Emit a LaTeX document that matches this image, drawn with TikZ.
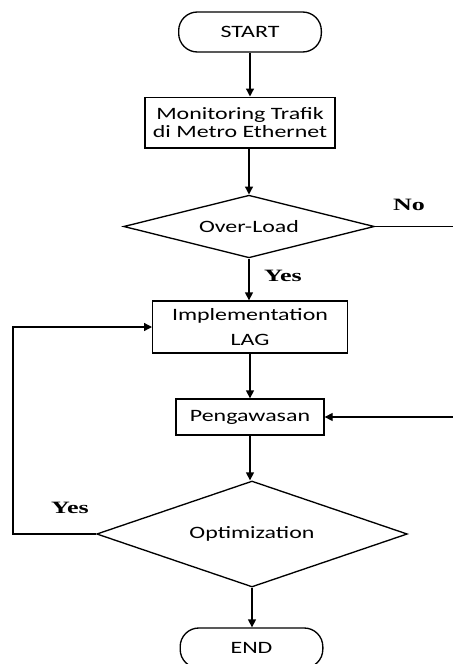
\documentclass[tikz,border=0pt]{standalone}
\usepackage{fontspec}
\setmainfont{Carlito}[FakeStretch=1.38]
\newfontfamily\lblfont{Liberation Serif}[FakeStretch=1.5]
\usetikzlibrary{shapes.geometric,arrows.meta}
\begin{document}
\begin{tikzpicture}[x=0.75pt,y=-0.75pt,
  base/.style={draw=black, line width=1pt, font=\fontsize{13}{13}\selectfont, inner sep=0pt, align=center},
  term/.style={base, rectangle, rounded corners=14pt, minimum width=107pt, minimum height=30pt},
  procbox/.style={base, rectangle},
  decis/.style={base, diamond},
  arr/.style={line width=1pt, -{Triangle[length=6pt,width=6pt]}},
  conn/.style={line width=1pt},
  lbl/.style={font=\lblfont\bfseries\fontsize{13}{13}\selectfont, inner sep=0pt}
]
\useasboundingbox (0,0) rectangle (453,664);
\clip (0,0) rectangle (453,664);
\node[term] (start) at (250,32) {START};
\node[procbox, minimum width=142.5pt, minimum height=38pt] (mon) at (240,122.5) {Monitoring Trafik\\di Metro Ethernet};
\node[decis, minimum width=188pt, minimum height=47pt, aspect=4] (ol) at (249,226.5) {Over-Load};
\node[procbox, minimum width=146pt, minimum height=39pt] (impl) at (250,327) {Implementation\\[6pt]LAG};
\node[procbox, minimum width=111pt, minimum height=27pt] (peng) at (250,417) {Pengawasan};
\node[decis, minimum width=233pt, minimum height=79.5pt, aspect=2.9] (opt) at (252,534) {Optimization};
\node[term] (end) at (251.5,648) {END};
\coordinate (noend) at (453,226.5);
\coordinate (rin) at (453,417);
\coordinate (loopc) at (13,534);
\node[lbl] (nolbl) at (409,205) {No};
\node[lbl] (yes1) at (283,276) {Yes};
\node[lbl] (yes2) at (70,508) {Yes};
\draw[arr] (start.south) -- (start.south |- mon.north);
\draw[arr] (ol.north |- mon.south) -- (ol.north);
\draw[arr] (ol.south) -- (ol.south |- impl.north);
\draw[arr] (impl.south) -- (impl.south |- peng.north);
\draw[arr] (peng.south) -- (peng.south |- opt.north);
\draw[arr] (opt.south) -- (opt.south |- end.north);
\draw[conn] (ol.east) -- (noend);
\draw[arr] (rin) -- (peng.east);
\draw[arr] (opt.west) -- (loopc) |- (impl.west);
\end{tikzpicture}
\end{document}
